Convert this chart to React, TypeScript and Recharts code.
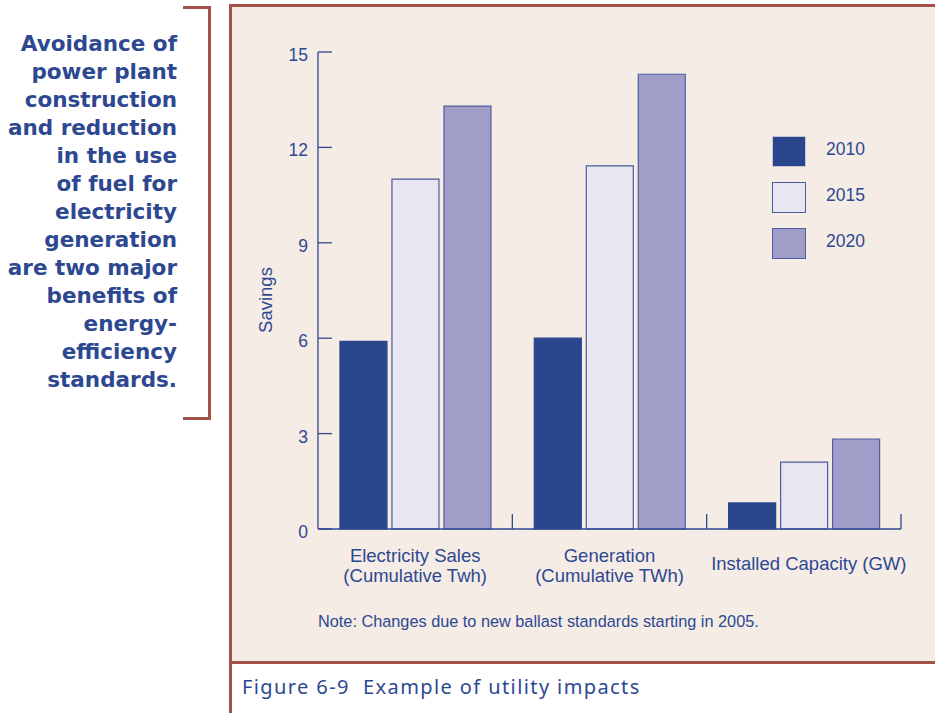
import React from 'react';
import { BarChart, Bar, XAxis, YAxis, Legend, Label } from 'recharts';

// data
const categories = [
  'Electricity Sales|(Cumulative Twh)',
  'Generation|(Cumulative TWh)',
  'Installed Capacity (GW)',
];
const savings2010 = [5.9, 6.0, 0.82];
const savings2015 = [11.0, 11.42, 2.1];
const savings2020 = [13.3, 14.3, 2.83];
const yTicks = [0, 3, 6, 9, 12, 15];
const sidebarLines = [
  'Avoidance of',
  'power plant',
  'construction',
  'and reduction',
  'in the use',
  'of fuel for',
  'electricity',
  'generation',
  'are two major',
  'benefits of',
  'energy-',
  'efficiency',
  'standards.',
];

const data = categories.map((name, i) => ({
  name,
  y2010: savings2010[i],
  y2015: savings2015[i],
  y2020: savings2020[i],
}));

const SERIES = [
  { key: 'y2010', name: '2010', fill: '#29468c', stroke: '#29468c' },
  { key: 'y2015', name: '2015', fill: '#e8e6f0', stroke: '#4a5b9e' },
  { key: 'y2020', name: '2020', fill: '#a09dc8', stroke: '#4e5d9e' },
];

const BLUE = '#2d4891';
const BROWN = '#a0524a';
const PANEL_BG = '#f5ece6';
const ARIAL = '"Liberation Sans", Arial, sans-serif';

// plot box in page pixels
const PLOT_LEFT = 318;
const PLOT_RIGHT = 901;
const PLOT_TOP = 52;
const PLOT_BOTTOM = 529;
const Y_AXIS_W = 60;
const X_AXIS_H = 60;
const CHART_W = 935;
const CHART_H = 713;
const BAND = (PLOT_RIGHT - PLOT_LEFT) / categories.length;

const YTick = (props: any) => {
  const { x, y, payload } = props;
  return (
    <g>
      <line x1={x + 10} x2={x + 24} y1={y} y2={y} stroke={BLUE} strokeWidth={1.3} />
      <text x={x} y={y} dy={9} textAnchor="end" fill={BLUE} fontSize={17.5} fontFamily={ARIAL}>
        {payload.value}
      </text>
    </g>
  );
};

const XTick = (props: any) => {
  const { x, y, payload } = props;
  const lines = String(payload.value).split('|');
  const right = x + BAND / 2;
  return (
    <g>
      <line x1={right} x2={right} y1={y} y2={y - 15} stroke={BLUE} strokeWidth={1.3} />
      {lines.length === 1 ? (
        // single-line label sits a little right of centre in the original
        <text x={x + 5} y={y + 41} textAnchor="middle" fill={BLUE} fontSize={18.5} fontFamily={ARIAL}>
          {lines[0]}
        </text>
      ) : (
        lines.map((l, i) => (
          <text
            key={i}
            x={x}
            y={y + 33 + i * 20}
            textAnchor="middle"
            fill={BLUE}
            fontSize={18.5}
            fontFamily={ARIAL}
          >
            {l}
          </text>
        ))
      )}
    </g>
  );
};

const LegendBox = (props: any) => {
  const { payload } = props;
  return (
    <div style={{ width: 140 }}>
      {(payload || []).map((p: any) => {
        const s = SERIES.find((ss) => ss.key === p.dataKey) || SERIES[0];
        return (
          <div
            key={s.key}
            style={{ display: 'flex', alignItems: 'center', height: 46, fontFamily: ARIAL }}
          >
            <div
              style={{
                width: 32,
                height: 29,
                background: s.fill,
                border: `1.5px solid ${s.stroke === s.fill ? '#c9c6d6' : s.stroke}`,
              }}
            />
            <span style={{ marginLeft: 20, fontSize: 17.5, color: BLUE, marginTop: -3 }}>{s.name}</span>
          </div>
        );
      })}
    </div>
  );
};

export default function App() {
  return (
    <div
      style={{
        position: 'absolute',
        left: 0,
        top: 0,
        width: CHART_W,
        height: CHART_H,
        background: '#ffffff',
        overflow: 'hidden',
      }}
    >
      {/* sidebar text */}
      <div
        style={{
          position: 'absolute',
          left: 0,
          top: 30,
          width: 177,
          textAlign: 'right',
          fontFamily: '"DejaVu Sans", Verdana, sans-serif',
          fontWeight: 'bold',
          fontSize: 21.5,
          lineHeight: '28px',
          color: BLUE,
          whiteSpace: 'nowrap',
        }}
      >
        {sidebarLines.map((l, i) => (
          <div key={i}>{l}</div>
        ))}
      </div>
      {/* bracket */}
      <div
        style={{
          position: 'absolute',
          left: 183,
          top: 6,
          width: 28,
          height: 414,
          borderTop: `3px solid ${BROWN}`,
          borderRight: `3px solid ${BROWN}`,
          borderBottom: `3px solid ${BROWN}`,
          boxSizing: 'border-box',
        }}
      />
      {/* panel */}
      <div
        style={{
          position: 'absolute',
          left: 229,
          top: 4,
          width: CHART_W - 229,
          height: 660,
          background: PANEL_BG,
          borderLeft: `3px solid ${BROWN}`,
          borderTop: `3px solid ${BROWN}`,
          borderBottom: `3px solid ${BROWN}`,
          boxSizing: 'border-box',
        }}
      />
      <div
        style={{
          position: 'absolute',
          left: 229,
          top: 664,
          width: 3,
          height: 49,
          background: BROWN,
        }}
      />
      <div
        style={{
          position: 'absolute',
          left: 318,
          top: 612,
          fontFamily: ARIAL,
          fontSize: 16.3,
          color: BLUE,
          whiteSpace: 'nowrap',
        }}
      >
        Note: Changes due to new ballast standards starting in 2005.
      </div>
      <div
        style={{
          position: 'absolute',
          left: 242,
          top: 673,
          fontFamily: '"Noto Sans", "Open Sans", sans-serif',
          fontSize: 20,
          letterSpacing: 1.4,
          color: BLUE,
          whiteSpace: 'pre',
        }}
      >
        {'Figure 6-9  Example of utility impacts'}
      </div>

      <div style={{ position: 'absolute', left: 0, top: 0 }}>
        <BarChart
          width={CHART_W}
          height={CHART_H}
          data={data}
          margin={{
            top: PLOT_TOP,
            right: CHART_W - PLOT_RIGHT,
            left: PLOT_LEFT - Y_AXIS_W,
            bottom: CHART_H - PLOT_BOTTOM - X_AXIS_H,
          }}
          barCategoryGap="11.3%"
          barGap={5}
        >
          <XAxis
            dataKey="name"
            height={X_AXIS_H}
            tickLine={false}
            tickSize={0}
            tickMargin={0}
            interval={0}
            axisLine={{ stroke: BLUE, strokeWidth: 1.3 }}
            tick={<XTick />}
          />
          <YAxis
            width={Y_AXIS_W}
            domain={[0, 15]}
            ticks={yTicks}
            interval={0}
            tickLine={false}
            tickSize={0}
            tickMargin={10}
            axisLine={{ stroke: BLUE, strokeWidth: 1.3 }}
            tick={<YTick />}
          >
            <Label
              content={() => (
                <text
                  x={272}
                  y={300}
                  transform="rotate(-90 272 300)"
                  textAnchor="middle"
                  fill={BLUE}
                  fontSize={18.5}
                  fontFamily={ARIAL}
                >
                  Savings
                </text>
              )}
            />
          </YAxis>
          <Legend
            layout="vertical"
            align="right"
            verticalAlign="top"
            content={<LegendBox />}
            wrapperStyle={{ left: 772, top: 128, width: 0, height: 0, overflow: 'visible' }}
          />
          {SERIES.map((s) => (
            <Bar
              key={s.key}
              dataKey={s.key}
              name={s.name}
              fill={s.fill}
              stroke={s.stroke}
              strokeWidth={1.2}
              isAnimationActive={false}
            />
          ))}
        </BarChart>
      </div>
    </div>
  );
}
